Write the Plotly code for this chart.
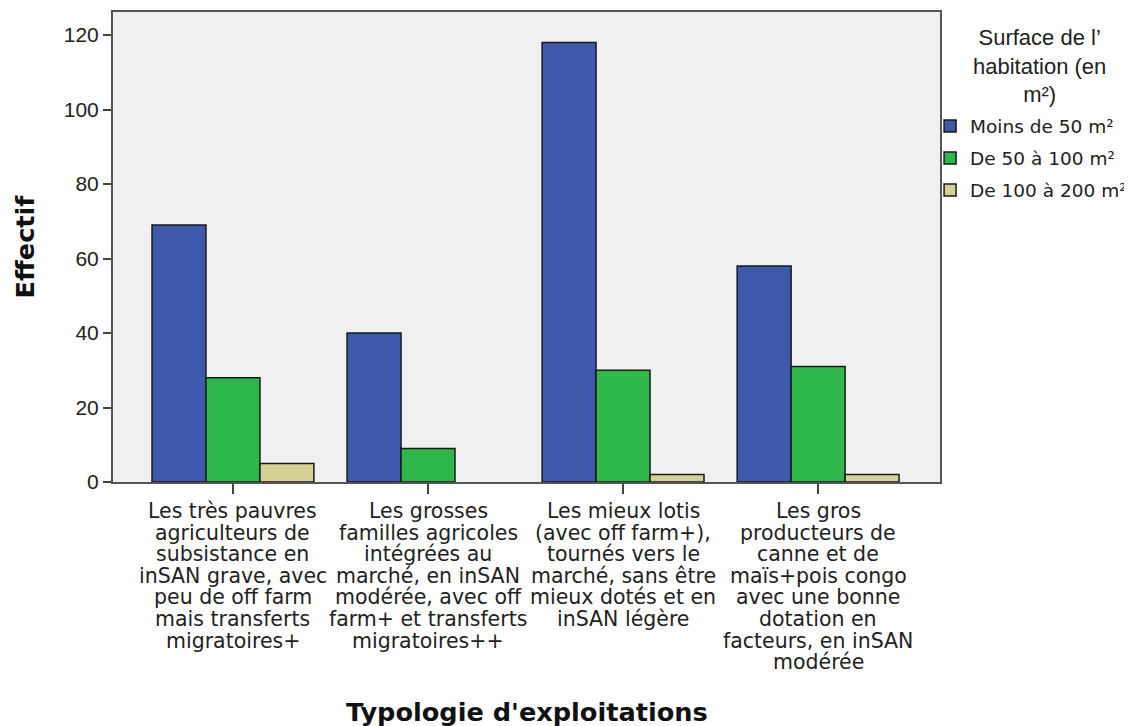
import plotly.graph_objects as go

categories = [
    "Les très pauvres<br>agriculteurs de<br>subsistance en<br>inSAN grave, avec<br>peu de off farm<br>mais transferts<br>migratoires+",
    "Les grosses<br>familles agricoles<br>intégrées au<br>marché, en inSAN<br>modérée, avec off<br>farm+ et transferts<br>migratoires++",
    "Les mieux lotis<br>(avec off farm+),<br>tournés vers le<br>marché, sans être<br>mieux dotés et en<br>inSAN légère",
    "Les gros<br>producteurs de<br>canne et de<br>maïs+pois congo<br>avec une bonne<br>dotation en<br>facteurs, en inSAN<br>modérée",
]
series_names = ["Moins de 50 m²", "De 50 à 100 m²", "De 100 à 200 m²"]
moins_50 = [69, 40, 118, 58]
de_50_100 = [28, 9, 30, 31]
de_100_200 = [5, None, 2, 2]
y_ticks = [0, 20, 40, 60, 80, 100, 120]

legend_title = "Surface de l’<br>habitation (en<br>m²)"
x_title = "Typologie d'exploitations"
y_title = "Effectif"

colors = ["#3E58AC", "#2EB849", "#D4D096"]
series_values = [moins_50, de_50_100, de_100_200]
xpos = list(range(len(categories)))

fig = go.Figure()
for name, vals, col in zip(series_names, series_values, colors):
    fig.add_trace(go.Bar(
        x=xpos, y=vals, name=name, legendgroup=name,
        marker=dict(color=col, line=dict(color="#1a1a1a", width=1.5)),
    ))

# category labels, line by line (tight line spacing like the original)
LINE_H = 21.6
for i, cat in enumerate(categories):
    for j, line in enumerate(cat.split("<br>")):
        fig.add_annotation(
            x=xpos[i], xref="x", y=0, yref="paper",
            text=line, showarrow=False,
            xanchor="center", yanchor="middle",
            yshift=-(29 + j * LINE_H),
            font=dict(family="DejaVu Sans", size=20.5, color="#222"),
        )

# x axis title
fig.add_annotation(
    x=0.5, xref="paper", y=0, yref="paper", yshift=-230,
    text="<b>" + x_title + "</b>", showarrow=False,
    xanchor="center", yanchor="middle",
    font=dict(family="DejaVu Sans", size=25.6, color="#111"),
)

# legend title
fig.add_annotation(
    x=1.12, xref="paper", y=0.885, yref="paper",
    text=legend_title, showarrow=False, align="center",
    xanchor="center", yanchor="middle",
    font=dict(family="Liberation Sans", size=22, color="#222"),
)

fig.update_layout(
    width=1124, height=718,
    margin=dict(l=105, r=192, t=4, b=244, autoexpand=False),
    paper_bgcolor="white", plot_bgcolor="#F0F0F0",
    barmode="group", bargap=0.17, bargroupgap=0,
    showlegend=True,
    legend=dict(
        x=0.988, xanchor="left", y=0.797, yanchor="top",
        bgcolor="rgba(0,0,0,0)", tracegroupgap=5,
        font=dict(family="DejaVu Sans", size=18.5, color="#222"),
        traceorder="grouped",
    ),
    xaxis=dict(
        range=[-0.615, 3.625], tickvals=xpos, ticktext=[""] * len(xpos),
        showticklabels=False, ticks="outside", ticklen=10, tickwidth=2,
        tickcolor="#444", showline=True, linecolor="#555", linewidth=2,
        mirror=True, showgrid=False, zeroline=False,
    ),
    yaxis=dict(
        range=[0, 126.2], tickvals=y_ticks, ticks="outside", ticklen=8,
        tickwidth=2, tickcolor="#444", showline=True, linecolor="#555",
        linewidth=2, mirror=True, showgrid=False, zeroline=False,
        tickfont=dict(family="Liberation Sans", size=21, color="#222"),
        title=dict(text="<b>" + y_title + "</b>", standoff=22,
                   font=dict(family="DejaVu Sans", size=25.6, color="#111")),
    ),
)

fig.write_html("out.html")
